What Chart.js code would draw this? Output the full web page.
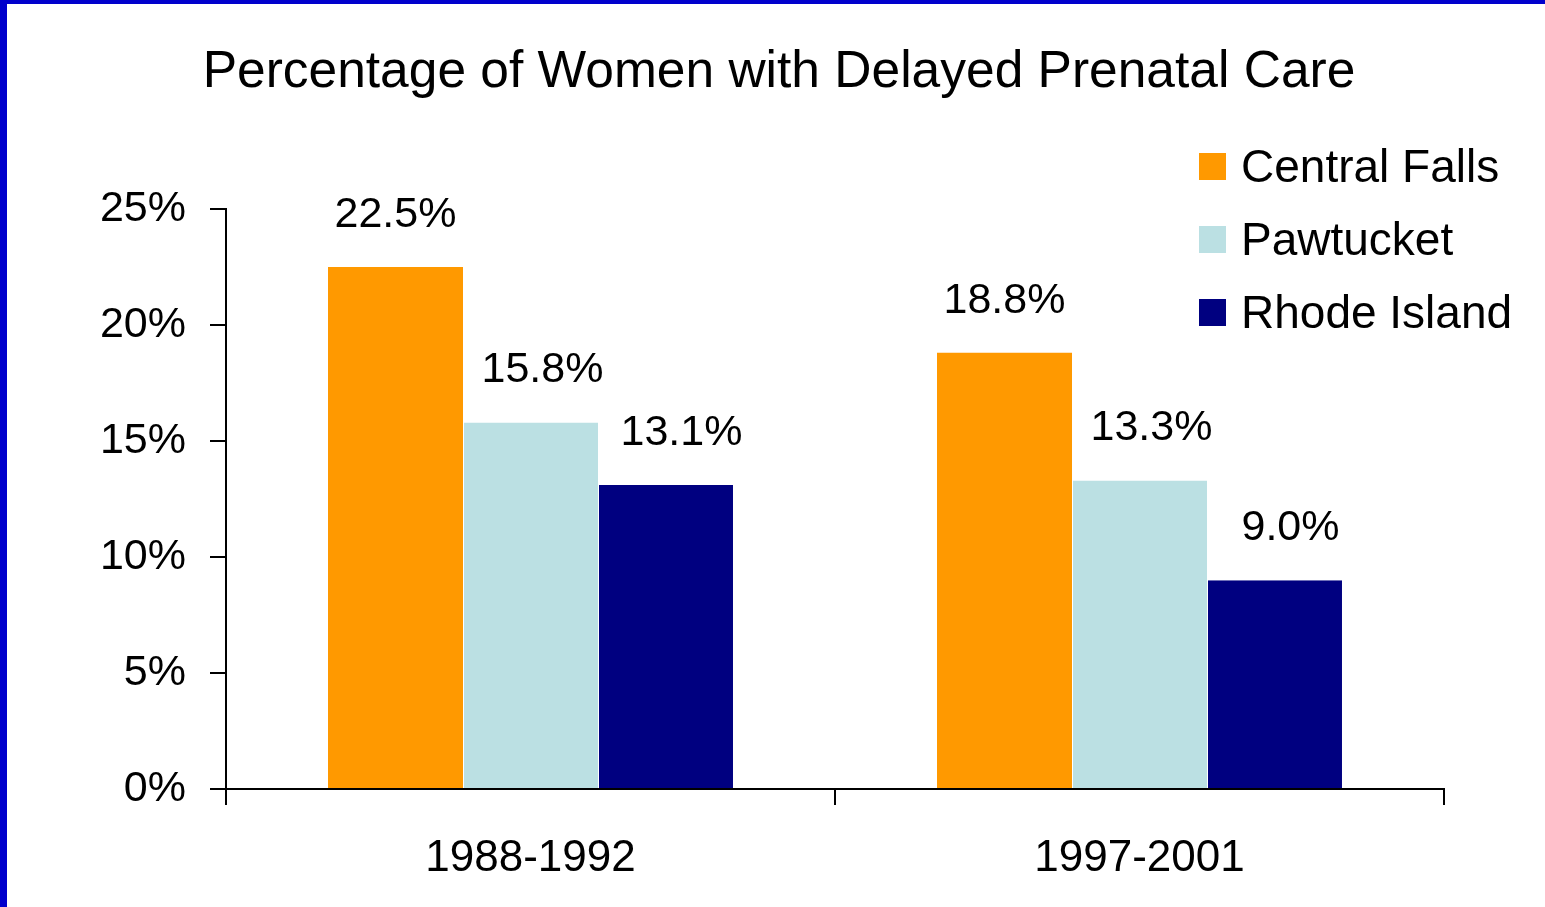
<!DOCTYPE html>
<html>
<head>
<meta charset="utf-8">
<script src="https://cdn.jsdelivr.net/npm/chart.js@4/dist/chart.umd.min.js"></script>
<style>
  html, body { margin: 0; padding: 0; background: #fff; }
  #wrap { position: relative; width: 1545px; height: 907px; overflow: hidden; font-family: "Liberation Sans", Arial, sans-serif; }
  #chart { position: absolute; left: 0; top: 0; }
  .edge { position: absolute; background: #0000cc; }
  #title { position: absolute; left: 0; top: 38px; width: 1558px; text-align: center; font-size: 51.5px; line-height: 62px; color: #000; white-space: nowrap; }
  #legend { position: absolute; left: 1199px; top: 140px; }
  .item { position: absolute; left: 0; height: 52px; white-space: nowrap; font-size: 46px; line-height: 52px; color: #000; }
  .box { position: absolute; left: 0; top: 13px; width: 27px; height: 27px; }
  .label { position: absolute; left: 42px; top: 0; }
</style>
</head>
<body>
<div id="wrap">
  <canvas id="chart" width="1545" height="907"></canvas>
  <div class="edge" style="left:0;top:0;width:1545px;height:4px"></div>
  <div class="edge" style="left:0;top:0;width:7px;height:907px"></div>
  <div id="title"></div>
  <div id="legend"></div>
</div>
<script>
const chartTitle = 'Percentage of Women with Delayed Prenatal Care';
const periods = ['1988-1992', '1997-2001'];
const seriesNames = ['Central Falls', 'Pawtucket', 'Rhode Island'];
const centralFalls = [22.5, 18.8];
const pawtucket = [15.8, 13.3];
const rhodeIsland = [13.1, 9.0];
const yTicks = [0, 5, 10, 15, 20, 25];

const SERIES_COLORS = ['#ff9900', '#bbe0e3', '#000080'];
const FONT = '"Liberation Sans", Arial, sans-serif';
// labels of the 2nd and 3rd series sit a bit right of the bar centre
const LABEL_SHIFT = [0, 12, 16];

// value labels above each bar
const valueLabels = {
  id: 'valueLabels',
  afterDatasetsDraw(chart) {
    const ctx = chart.ctx;
    ctx.save();
    ctx.font = '43px ' + FONT;
    ctx.fillStyle = '#000';
    ctx.textAlign = 'center';
    ctx.textBaseline = 'middle';
    chart.data.datasets.forEach((ds, i) => {
      chart.getDatasetMeta(i).data.forEach((bar, j) => {
        ctx.fillText(ds.data[j].toFixed(1) + '%', bar.x + LABEL_SHIFT[i], bar.y - 52);
      });
    });
    ctx.restore();
  }
};

const seriesData = [centralFalls, pawtucket, rhodeIsland];

new Chart(document.getElementById('chart'), {
  type: 'bar',
  data: {
    labels: periods,
    datasets: seriesNames.map((name, i) => ({
      label: name,
      data: seriesData[i],
      backgroundColor: SERIES_COLORS[i],
      borderColor: '#fff',
      borderWidth: i === 0 ? 0 : { left: 1, right: 0, top: 0, bottom: 0 },
      categoryPercentage: 0.665,
      barPercentage: 1
    }))
  },
  options: {
    responsive: false,
    animation: false,
    layout: { padding: { left: 0, right: 101, top: 209, bottom: 0 } },
    scales: {
      x: {
        grid: { drawOnChartArea: false, color: '#000', lineWidth: 2, tickLength: 16 },
        border: { color: '#000', width: 2 },
        ticks: { color: '#000', font: { size: 44, family: FONT }, padding: 27 },
        afterFit: (scale) => { scale.height = 118; }
      },
      y: {
        min: 0,
        max: 25,
        afterBuildTicks: (scale) => { scale.ticks = yTicks.map(v => ({ value: v })); },
        grid: { drawOnChartArea: false, color: '#000', lineWidth: 2, tickLength: 16 },
        border: { color: '#000', width: 2 },
        ticks: { color: '#000', font: { size: 43, family: FONT }, padding: 24, callback: v => v + '%' },
        afterFit: (scale) => { scale.width = 226; }
      }
    },
    plugins: {
      legend: { display: false },
      tooltip: { enabled: false },
      title: { display: false }
    }
  },
  plugins: [valueLabels]
});

document.getElementById('title').textContent = chartTitle;

// legend drawn as html, to the right over the plot
const legend = document.getElementById('legend');
seriesNames.forEach((name, i) => {
  const item = document.createElement('div');
  item.className = 'item';
  item.style.top = (i * 73) + 'px';
  item.innerHTML = '<span class="box" style="background:' + SERIES_COLORS[i] + '"></span><span class="label">' + name + '</span>';
  legend.appendChild(item);
});
</script>
</body>
</html>
